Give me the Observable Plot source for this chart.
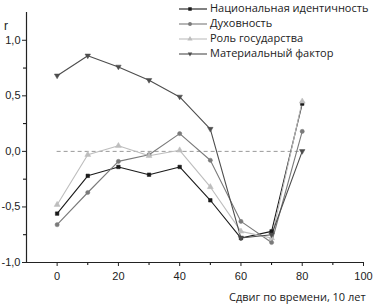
<!DOCTYPE html>
<html><head><meta charset="utf-8">
<script src="https://cdn.jsdelivr.net/npm/d3@7"></script>
<script src="https://cdn.jsdelivr.net/npm/@observablehq/plot@0.6"></script>
<style>
body{margin:0;background:#fff;}
#wrap{position:relative;width:377px;height:304px;overflow:hidden;font-family:"Liberation Sans",Arial,sans-serif;}
#wrap > svg{display:block;}
.ov{position:absolute;white-space:nowrap;color:#222;}
.lgrow{position:absolute;left:178px;height:15px;line-height:15px;font-size:11px;font-family:'Open Sans',sans-serif;color:#222;white-space:nowrap;}
.lgrow svg{display:inline-block;vertical-align:middle;margin-right:2px;}
</style></head>
<body><div id="wrap"></div>
<script>
const shifts = [0, 10, 20, 30, 40, 50, 60, 70, 80];
const seriesNames = ["Национальная идентичность", "Духовность", "Роль государства", "Материальный фактор"];
const nationalIdentity = [-0.56, -0.22, -0.14, -0.21, -0.14, -0.44, -0.78, -0.72, 0.43];
const spirituality = [-0.66, -0.37, -0.09, -0.03, 0.16, -0.08, -0.63, -0.82, 0.18];
const roleOfState = [-0.48, -0.03, 0.05, -0.04, 0.01, -0.32, -0.72, -0.78, 0.45];
const materialFactor = [0.68, 0.86, 0.76, 0.64, 0.49, 0.20, -0.78, -0.75, 0.0];
const yMajor = [-1, -0.5, 0, 0.5, 1];
const yMinor = [-0.75, -0.25, 0.25, 0.75];
const xMajor = [0, 20, 40, 60, 80, 100];
const xMinor = [10, 30, 50, 70, 90];

const triDown = {draw(ctx, size){ const h = Math.sqrt(size)*1.1; ctx.moveTo(-h/1.7, -h/2.6); ctx.lineTo(h/1.7, -h/2.6); ctx.lineTo(0, h/1.6); ctx.closePath(); }};
const styles = [
  {color:"#1a1a1a", symbol:"square", r:2},
  {color:"#7a7a7a", symbol:"circle", r:2.1},
  {color:"#bdbdbd", symbol:"triangle", r:2.2},
  {color:"#4d4d4d", symbol:triDown, r:2.4}
];
const allVals = [nationalIdentity, spirituality, roleOfState, materialFactor];
const data = [];
allVals.forEach((vals, i) => vals.forEach((v, j) => data.push({series: seriesNames[i], x: shifts[j], y: v, i})));

const fmt = d => d3.format(".1f")(d).replace(".", ",").replace("−", "-");

const marks = [
  Plot.ruleY([0], {x1: 0, x2: 80, stroke: "#999", strokeDasharray: "4,3", strokeWidth: 1}),
];
[0,1,2,3].forEach(i => {
  const d = data.filter(e => e.i === i);
  marks.push(Plot.line(d, {x: "x", y: "y", stroke: styles[i].color, strokeWidth: 1.1}));
});
[0,1,2,3].forEach(i => {
  const d = data.filter(e => e.i === i);
  marks.push(Plot.dot(d, {x: "x", y: "y", fill: styles[i].color, stroke: styles[i].color, strokeWidth: 0.5, symbol: () => styles[i].symbol, r: styles[i].r}));
});
marks.push(
  Plot.axisY(yMajor, {tickSize: 4, tickFormat: fmt, fontSize: 11, tickPadding: 2, color: "#222", label: null}),
  Plot.axisY(yMinor, {tickSize: 3, tickFormat: () => "", label: null}),
  Plot.axisX(xMajor, {tickSize: 4, fontSize: 11, tickPadding: 6, color: "#222", label: null}),
  Plot.axisX(xMinor, {tickSize: 3, tickFormat: () => "", label: null}),
  Plot.ruleX([-10], {stroke: "#222", strokeWidth: 1.2}),
  Plot.ruleY([-1], {stroke: "#222", strokeWidth: 1.2})
);

const chart = Plot.plot({
  width: 377, height: 304,
  marginLeft: 26, marginRight: 14, marginTop: 12, marginBottom: 42,
  x: {domain: [-10, 100]},
  y: {domain: [-1, 1.25]},
  symbol: {type: "identity"},
  style: {fontFamily: '"Liberation Sans", Arial, sans-serif', background: "#fff"},
  marks
});
const wrap = document.getElementById("wrap");
wrap.appendChild(chart);

// y label and x label
const rl = document.createElement("div"); rl.className = "ov"; rl.textContent = "r";
rl.style.cssText += "left:4px;top:19px;font-size:12px;"; wrap.appendChild(rl);
const xl = document.createElement("div"); xl.className = "ov"; xl.textContent = "Сдвиг по времени, 10 лет";
xl.style.cssText += "left:229px;top:289px;font-size:11px;font-family:'Open Sans',sans-serif;"; wrap.appendChild(xl);

// legend (HTML rows with small svg swatches)
seriesNames.forEach((n, i) => {
  const row = d3.select(wrap).append("div").attr("class", "lgrow").style("top", `${0 + i*15}px`);
  const s = row.append("svg").attr("width", 30).attr("height", 10);
  s.append("line").attr("x1", 1).attr("x2", 29).attr("y1", 5).attr("y2", 5).attr("stroke", styles[i].color).attr("stroke-width", 1.1);
  const sym = typeof styles[i].symbol === "string" ? {square: d3.symbolSquare, circle: d3.symbolCircle, triangle: d3.symbolTriangle}[styles[i].symbol] : styles[i].symbol;
  s.append("path").attr("transform", "translate(12,5)").attr("d", d3.symbol(sym, 12)()).attr("fill", styles[i].color);
  row.append("span").text(n);
});
</script></body></html>
